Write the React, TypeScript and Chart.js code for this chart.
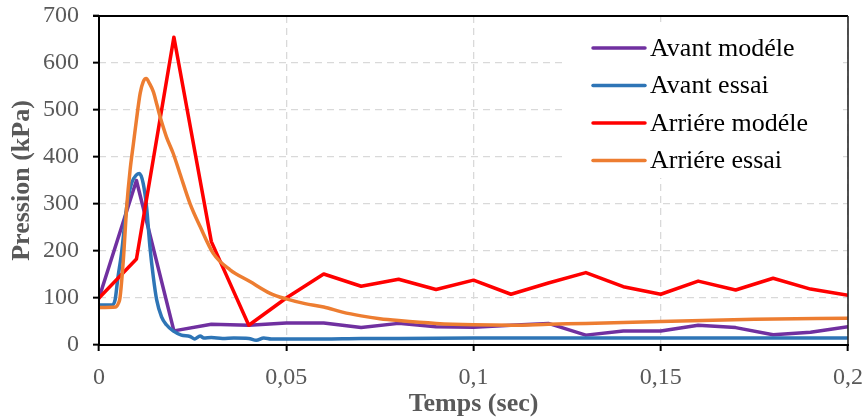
import React, { useEffect, useRef } from "react";
import { Chart, registerables } from "chart.js";
Chart.register(...registerables);

// ---- data ----
const modelTime = [0, 0.01, 0.02, 0.03, 0.04, 0.05, 0.06, 0.07, 0.08, 0.09, 0.1, 0.11, 0.12, 0.13, 0.14, 0.15, 0.16, 0.17, 0.18, 0.19, 0.2];
const avantModele = [100, 350, 30, 44, 42, 47, 47, 37, 46, 39, 38, 42, 46, 21, 30, 30, 42, 37, 22, 27, 39];
const arriereModele = [100, 183, 655, 220, 42, 100, 151, 125, 140, 118, 138, 108, 132, 154, 124, 108, 136, 117, 142, 119, 106];

const avantEssaiTime = [0, 0.0034, 0.0043, 0.005, 0.006, 0.0074, 0.0087, 0.01, 0.0108, 0.0118, 0.0127, 0.0136, 0.0145, 0.0154, 0.0167, 0.018, 0.0198, 0.022, 0.0243, 0.0256, 0.027, 0.028, 0.03, 0.033, 0.036, 0.04, 0.042, 0.044, 0.046, 0.05, 0.06, 0.07, 0.08, 0.1, 0.12, 0.14, 0.16, 0.18, 0.2];
const avantEssai = [85, 85, 96, 140, 195, 294, 344, 362, 365, 344, 294, 209, 145, 96, 60, 43, 30, 21, 18, 13, 19, 15, 16, 14, 15, 14, 10, 15, 13, 13, 13, 14, 14, 15, 15, 15, 15, 15, 15];

const arriereEssaiTime = [0, 0.0045, 0.0052, 0.0056, 0.0065, 0.0074, 0.0083, 0.0092, 0.01, 0.011, 0.0118, 0.0126, 0.0135, 0.0145, 0.0155, 0.0163, 0.018, 0.0198, 0.0216, 0.0243, 0.027, 0.0305, 0.035, 0.0403, 0.0457, 0.05, 0.055, 0.06, 0.065, 0.07, 0.075, 0.08, 0.09, 0.1, 0.11, 0.12, 0.13, 0.15, 0.175, 0.2];
const arriereEssai = [80, 81, 89, 100, 181, 294, 372, 429, 479, 536, 560, 567, 556, 539, 510, 486, 443, 408, 365, 301, 252, 195, 160, 135, 110, 98, 88, 81, 70, 62, 56, 52, 46, 43, 42, 44, 46, 50, 55, 57];

const seriesLabels = ["Avant modéle", "Avant essai", "Arriére modéle", "Arriére essai"];
const xTickValues = [0, 0.05, 0.1, 0.15, 0.2];
const xTickLabels = ["0", "0,05", "0,1", "0,15", "0,2"];
const yMin = 0;
const yMax = 700;
const yStep = 100;
const xTitle = "Temps (sec)";
const yTitle = "Pression (kPa)";

const toPoints = (xs: number[], ys: number[]) => xs.map((x, i) => ({ x, y: ys[i] }));

const SERIF = "'Liberation Serif', 'Times New Roman', serif";

const legendPlugin = {
  id: "boxLegend",
  afterDraw(chart: any) {
    const { ctx } = chart;
    const datasets = chart.data.datasets;
    ctx.save();
    ctx.fillStyle = "#fff";
    ctx.fillRect(566, 22, 272, 156);
    const rows = [48, 85.5, 123, 160.5];
    ctx.font = `26px ${SERIF}`;
    ctx.textBaseline = "middle";
    ctx.textAlign = "left";
    datasets.forEach((ds: any, i: number) => {
      const y = rows[i];
      ctx.strokeStyle = ds.borderColor;
      ctx.lineWidth = 3.5;
      ctx.lineCap = "round";
      ctx.beginPath();
      ctx.moveTo(593, y);
      ctx.lineTo(645, y);
      ctx.stroke();
      ctx.fillStyle = "#000";
      ctx.fillText(ds.label, 650, y + 1);
    });
    ctx.restore();
  },
};

const framePlugin = {
  id: "frame",
  afterDraw(chart: any) {
    const { ctx, chartArea } = chart;
    const { left, top, right, bottom } = chartArea;
    ctx.save();
    ctx.setLineDash([]);
    ctx.lineCap = "butt";
    ctx.strokeStyle = "#000";
    ctx.lineWidth = 1.8;
    ctx.beginPath();
    ctx.moveTo(left - 6, top);
    ctx.lineTo(right, top);
    ctx.stroke();
    ctx.strokeStyle = "#262626";
    ctx.lineWidth = 1.6;
    ctx.beginPath();
    ctx.moveTo(right, top);
    ctx.lineTo(right, bottom);
    ctx.stroke();
    ctx.strokeStyle = "#000";
    ctx.lineWidth = 2;
    ctx.beginPath();
    ctx.moveTo(left, top);
    ctx.lineTo(left, bottom + 1);
    ctx.stroke();
    ctx.beginPath();
    ctx.moveTo(left - 1, bottom);
    ctx.lineTo(right + 1, bottom);
    ctx.stroke();
    ctx.restore();
  },
};

export default function App() {
  const ref = useRef<HTMLCanvasElement | null>(null);
  useEffect(() => {
    if (!ref.current) return;
    const lineDs = (label: string, data: any[], color: string, order: number, smooth: boolean) => ({
      label,
      data,
      borderColor: color,
      backgroundColor: color,
      borderWidth: 3.5,
      pointRadius: 0,
      fill: false,
      order,
      borderJoinStyle: "round" as const,
      borderCapStyle: "round" as const,
      cubicInterpolationMode: smooth ? ("monotone" as const) : ("default" as const),
      tension: smooth ? 0.4 : 0,
    });
    const chart = new Chart(ref.current, {
      type: "line",
      data: {
        datasets: [
          lineDs(seriesLabels[0], toPoints(modelTime, avantModele), "#7030A0", 4, false),
          lineDs(seriesLabels[1], toPoints(avantEssaiTime, avantEssai), "#2E75B6", 3, true),
          lineDs(seriesLabels[2], toPoints(modelTime, arriereModele), "#FF0000", 2, false),
          lineDs(seriesLabels[3], toPoints(arriereEssaiTime, arriereEssai), "#ED7D31", 1, true),
        ],
      },
      options: {
        responsive: false,
        animation: false,
        devicePixelRatio: 1,
        layout: { autoPadding: false, padding: { left: 0, right: 16, top: 16, bottom: 0 } },
        plugins: { legend: { display: false }, tooltip: { enabled: false } },
        scales: {
          x: {
            type: "linear",
            min: 0,
            max: 0.2,
            afterBuildTicks: (scale: any) => {
              scale.ticks = xTickValues.map((v) => ({ value: v }));
            },
            afterFit: (scale: any) => {
              scale.height = 73;
              scale.paddingLeft = 0;
              scale.paddingRight = 0;
            },
            ticks: {
              autoSkip: false,
              maxRotation: 0,
              padding: 12,
              color: "#595959",
              font: { family: SERIF, size: 24 },
              callback: (v: any) => {
                const idx = xTickValues.findIndex((t) => Math.abs(t - Number(v)) < 1e-9);
                return idx >= 0 ? xTickLabels[idx] : "";
              },
            },
            grid: {
              color: "#D9D9D9",
              lineWidth: 1.3,
              tickLength: 6,
              tickColor: "#000",
              tickWidth: 2,
              tickBorderDash: [],
            },
            border: { display: false, dash: [7, 5] },
            title: {
              display: true,
              text: xTitle,
              color: "#595959",
              font: { family: SERIF, size: 26, weight: "bold" },
              padding: { top: 0, bottom: -2 },
            },
          },
          y: {
            type: "linear",
            min: yMin,
            max: yMax,
            afterFit: (scale: any) => {
              scale.width = 99;
              scale.paddingTop = 0;
              scale.paddingBottom = 0;
            },
            ticks: {
              stepSize: yStep,
              padding: 14,
              color: "#595959",
              font: { family: SERIF, size: 24 },
            },
            grid: {
              color: "#D9D9D9",
              lineWidth: 1.3,
              tickLength: 6,
              tickColor: "#000",
              tickWidth: 2,
              tickBorderDash: [],
            },
            border: { display: false, dash: [7, 5] },
            title: {
              display: true,
              text: yTitle,
              color: "#595959",
              font: { family: SERIF, size: 26, weight: "bold" },
              padding: { top: 7, bottom: 0 },
            },
          },
        },
      },
      plugins: [legendPlugin, framePlugin],
    } as any);
    return () => chart.destroy();
  }, []);
  return (
    <div style={{ position: "absolute", left: 0, top: 0, width: 864, height: 418, background: "#fff" }}>
      <canvas ref={ref} width={864} height={418} style={{ display: "block" }} />
    </div>
  );
}
